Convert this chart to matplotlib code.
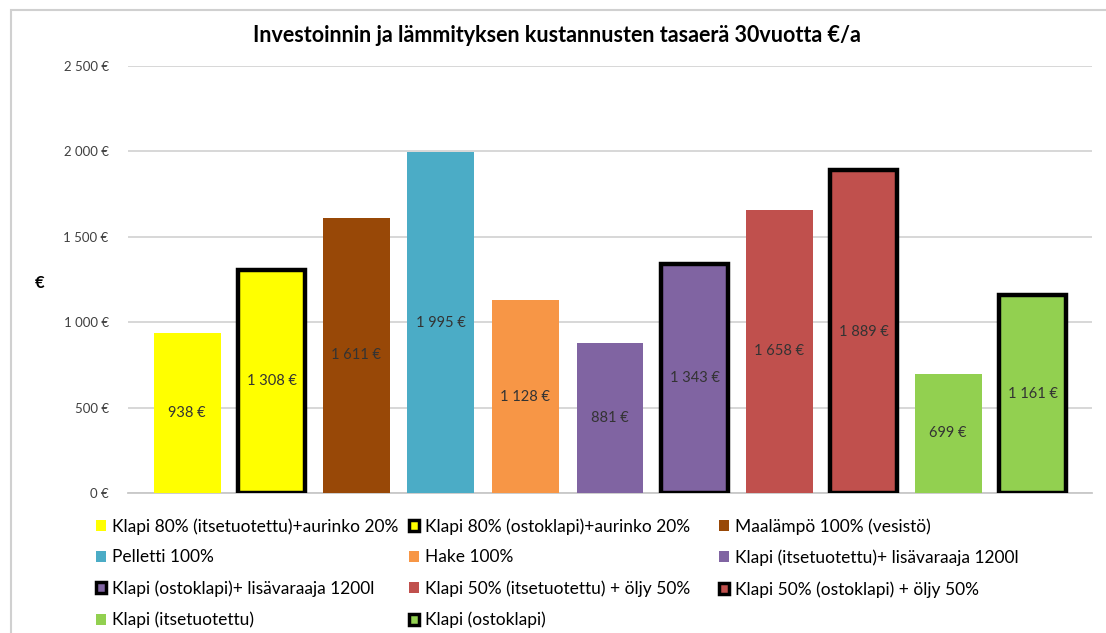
import matplotlib
matplotlib.use("Agg")
import matplotlib.pyplot as plt
from matplotlib.patches import Patch, Rectangle
from matplotlib.ticker import FuncFormatter

plt.rcParams["font.family"] = ["Lato", "DejaVu Sans"]

labels = [
    "Klapi 80% (itsetuotettu)+aurinko 20%",
    "Klapi 80% (ostoklapi)+aurinko 20%",
    "Maalämpö 100% (vesistö)",
    "Pelletti 100%",
    "Hake 100%",
    "Klapi (itsetuotettu)+ lisävaraaja 1200l",
    "Klapi (ostoklapi)+ lisävaraaja 1200l",
    "Klapi 50% (itsetuotettu) + öljy 50%",
    "Klapi 50% (ostoklapi) + öljy 50%",
    "Klapi (itsetuotettu)",
    "Klapi (ostoklapi)",
]
values = [938, 1308, 1611, 1995, 1128, 881, 1343, 1658, 1889, 699, 1161]
colors = ["#FFFF00", "#FFFF00", "#984807", "#4BACC6", "#F79646", "#8064A2",
          "#8064A2", "#C0504D", "#C0504D", "#92D050", "#92D050"]
outlined = [False, True, False, False, False, False, True, False, True, False, True]

yticks = [0, 500, 1000, 1500, 2000, 2500]


def euro(v, pos=None):
    return f"{v:,.0f}".replace(",", " ") + " €"


fig = plt.figure(figsize=(11.06, 6.33), dpi=100)
# light chart frame like the Excel chart area
fig.patches.append(Rectangle((11 / 1106, -0.1), 1.2, (633 - 10) / 633 + 0.1,
                             transform=fig.transFigure, fill=False,
                             edgecolor="#d0d0d0", linewidth=1.5))

ax = fig.add_axes([128 / 1106, 140 / 633, (1092 - 128) / 1106, (493 - 66) / 633])

for i, (v, c, o) in enumerate(zip(values, colors, outlined)):
    ax.bar(i, v, width=0.79, color=c,
           edgecolor="black" if o else c,
           linewidth=3.2 if o else 0, zorder=3)
    ax.text(i, v / 2, euro(v), ha="center", va="center", fontsize=10.5,
            color="#333333", zorder=4)

ax.set_xlim(-0.7, len(values) - 0.3)
ax.set_ylim(0, 2500)
ax.set_yticks(yticks)
ax.yaxis.set_major_formatter(FuncFormatter(euro))
ax.tick_params(axis="y", length=0, labelsize=9.5, labelcolor="#404040", pad=14)
ax.set_xticks([])
ax.grid(axis="y", color="#d4d4d4", linewidth=1.3, zorder=0)
for s in ("top", "right", "left"):
    ax.spines[s].set_visible(False)
ax.spines["bottom"].set_color("#c8c8c8")
ax.spines["bottom"].set_linewidth(1.3)

fig.text(40 / 1106, 1 - 283 / 633, "€", fontsize=12, fontweight="bold",
         ha="center", va="center")
fig.text(557 / 1106, 1 - 36 / 633,
         "Investoinnin ja lämmityksen kustannusten tasaerä 30vuotta €/a",
         fontsize=15.5, fontweight="bold", ha="center", va="center")

handles = []
for c, o in zip(colors, outlined):
    if o:
        handles.append(Patch(facecolor=c, edgecolor="black", linewidth=2.5))
    else:
        handles.append(Patch(facecolor=c, edgecolor=c, linewidth=0))

# Excel lays the legend out in equal-width columns, row by row
col_x = [96, 409, 719]
for col, x0 in enumerate(col_x):
    idx = list(range(col, len(labels), 3))
    fig.legend([handles[k] for k in idx], [labels[k] for k in idx],
               loc="upper left", bbox_to_anchor=(x0 / 1106, 1 - 518 / 633),
               frameon=False, fontsize=12.5, handlelength=0.6,
               handleheight=0.6, handletextpad=0.35, labelspacing=0.86,
               borderpad=0, borderaxespad=0)

fig.savefig("out.png", dpi=100)
